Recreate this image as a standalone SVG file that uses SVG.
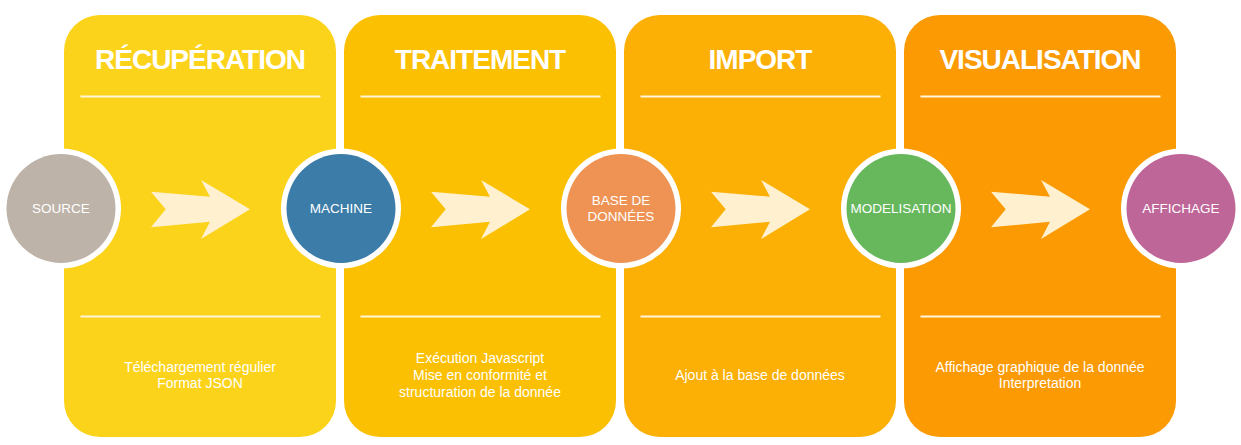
<svg xmlns="http://www.w3.org/2000/svg" width="1241" height="445" viewBox="0 0 1241 445">
<style>
.panel{stroke:none}
.rule{stroke:#FFF6DC;stroke-width:2}
.title{font-family:"Liberation Sans",Arial,sans-serif;font-weight:bold;font-size:28px;letter-spacing:-1px;fill:#FFFFFF;text-anchor:middle}
.body{font-family:"Liberation Sans",Arial,sans-serif;font-size:14px;fill:#FFFFFF;text-anchor:middle}
.label{font-family:"Liberation Sans",Arial,sans-serif;font-size:13.5px;fill:#FFFFFF;text-anchor:middle}
.ring{fill:#FFFFFF}
.arrow{fill:#FFF1CF}
</style>
<defs>
<polygon id="arr" class="arrow" points="151,191.7 210,196.7 201,180 250,209.3 201,239 210,221.7 151,227.3 165.7,209.3"/>
</defs>
<g id="panel-recuperation">
<rect class="panel" x="64" y="15" width="272" height="422" rx="36" fill="#FCD31B"/>
<text class="title" x="200" y="69">RÉCUPÉRATION</text>
<line class="rule" x1="80.5" y1="96.5" x2="320.5" y2="96.5"/>
<line class="rule" x1="80.5" y1="316.5" x2="320.5" y2="316.5"/>
<text class="body" x="200" y="371.5">Téléchargement régulier</text>
<text class="body" x="200" y="388">Format JSON</text>
</g>
<g id="panel-traitement">
<rect class="panel" x="344" y="15" width="272" height="422" rx="36" fill="#FCC002"/>
<text class="title" x="480" y="69">TRAITEMENT</text>
<line class="rule" x1="360.5" y1="96.5" x2="600.5" y2="96.5"/>
<line class="rule" x1="360.5" y1="316.5" x2="600.5" y2="316.5"/>
<text class="body" x="480" y="363">Exécution Javascript</text>
<text class="body" x="480" y="380">Mise en conformité et</text>
<text class="body" x="480" y="397">structuration de la donnée</text>
</g>
<g id="panel-import">
<rect class="panel" x="624" y="15" width="272" height="422" rx="36" fill="#FCAF05"/>
<text class="title" x="760" y="69">IMPORT</text>
<line class="rule" x1="640.5" y1="96.5" x2="880.5" y2="96.5"/>
<line class="rule" x1="640.5" y1="316.5" x2="880.5" y2="316.5"/>
<text class="body" x="760" y="380">Ajout à la base de données</text>
</g>
<g id="panel-visualisation">
<rect class="panel" x="904" y="15" width="272" height="422" rx="36" fill="#FB9A03"/>
<text class="title" x="1040" y="69">VISUALISATION</text>
<line class="rule" x1="920.5" y1="96.5" x2="1160.5" y2="96.5"/>
<line class="rule" x1="920.5" y1="316.5" x2="1160.5" y2="316.5"/>
<text class="body" x="1040" y="371.5">Affichage graphique de la donnée</text>
<text class="body" x="1040" y="388">Interpretation</text>
</g>
<g id="connectors">
<use href="#arr"/>
<use href="#arr" x="280"/>
<use href="#arr" x="560"/>
<use href="#arr" x="840"/>
</g>
<g id="node-source">
<circle class="ring" cx="61" cy="208.5" r="60"/>
<circle cx="61" cy="208.5" r="54.5" fill="#BEB3A9"/>
<text class="label" x="61" y="213">SOURCE</text>
</g>
<g id="node-machine">
<circle class="ring" cx="341" cy="208.5" r="60"/>
<circle cx="341" cy="208.5" r="54.5" fill="#3B7CA8"/>
<text class="label" x="341" y="213">MACHINE</text>
</g>
<g id="node-base">
<circle class="ring" cx="621" cy="208.5" r="60"/>
<circle cx="621" cy="208.5" r="54.5" fill="#EE9354"/>
<text class="label" x="621" y="205">BASE DE</text>
<text class="label" x="621" y="221">DONNÉES</text>
</g>
<g id="node-modelisation">
<circle class="ring" cx="901" cy="208.5" r="60"/>
<circle cx="901" cy="208.5" r="54.5" fill="#67B85D"/>
<text class="label" x="901" y="213">MODELISATION</text>
</g>
<g id="node-affichage">
<circle class="ring" cx="1181" cy="208.5" r="60"/>
<circle cx="1181" cy="208.5" r="54.5" fill="#BF6699"/>
<text class="label" x="1181" y="213">AFFICHAGE</text>
</g>
</svg>
